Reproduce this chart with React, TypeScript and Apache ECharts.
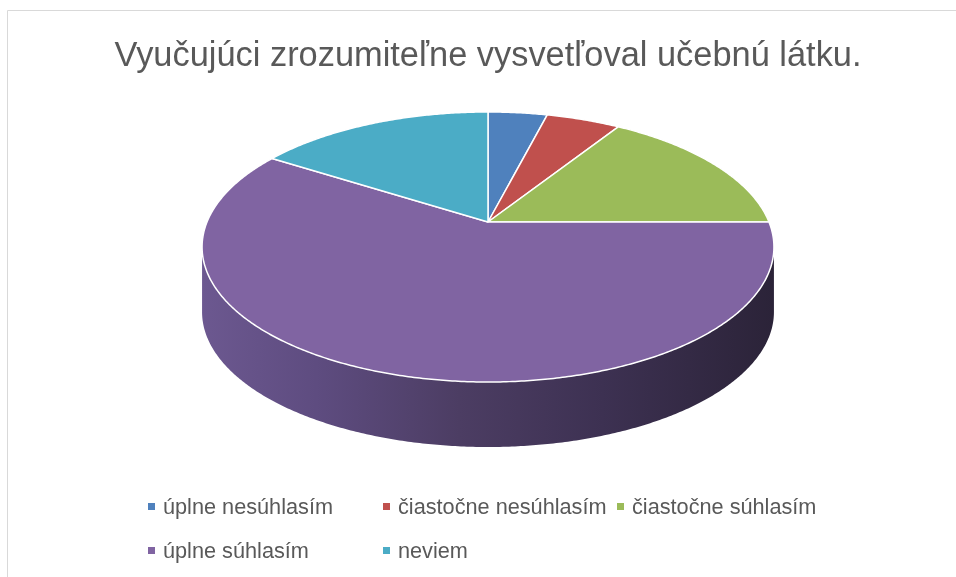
import { useEffect, useRef } from "react";
import * as echarts from "echarts";

const titleText = "Vyučujúci zrozumiteľne vysvetľoval učebnú látku.";
const categories = [
  "úplne nesúhlasím",
  "čiastočne nesúhlasím",
  "čiastočne súhlasím",
  "úplne súhlasím",
  "neviem",
];
const values = [4, 5, 16, 59, 16];
const colors = ["#4F81BD", "#C0504D", "#9BBB59", "#8064A2", "#4BACC6"];

// legend grid: column of each item, row of each item
const legendCols = [0, 1, 2, 0, 1];
const legendRows = [0, 0, 0, 1, 1];

const FONT = "'Liberation Sans', Arial, sans-serif";

// 3D pie geometry (perspective view)
const CX = 488;
const CY = 222;
const RX = 281;
const RY = 130.4;
const PERSP = 0.185;
const DEPTH = 65;

function project(theta: number, dy = 0): number[] {
  const u = Math.cos(theta);
  const v = Math.sin(theta);
  const k = 1 / (1 + PERSP * u);
  return [CX + RX * v * k, CY - RY * u * k + dy];
}

function arc(a0: number, a1: number, dy = 0): number[][] {
  const pts: number[][] = [];
  const n = Math.max(2, Math.ceil(Math.abs(a1 - a0) / (Math.PI / 360)));
  for (let i = 0; i <= n; i++) {
    pts.push(project(a0 + ((a1 - a0) * i) / n, dy));
  }
  return pts;
}

export default function App() {
  const ref = useRef<HTMLDivElement>(null);

  useEffect(() => {
    if (!ref.current) return;
    const chart = echarts.init(ref.current, undefined, { renderer: "svg" });
    const total = values.reduce((a, b) => a + b, 0);
    const visA = Math.acos(-PERSP);
    const visB = 2 * Math.PI - visA;

    const colX = [148, 383, 617];
    const rowCenter = [506.5, 550.5];
    const legends = categories.map((name, i) => ({
      data: [name],
      left: colX[legendCols[i]],
      top: rowCenter[legendRows[i]] - 11,
      padding: 0,
      icon: "rect",
      itemWidth: 7,
      itemHeight: 7,
      selectedMode: false,
      textStyle: {
        fontFamily: FONT,
        fontSize: 21.7,
        lineHeight: 22,
        color: "#595959",
        padding: [0, 0, 0, 3],
      },
    }));

    chart.setOption({
      animation: false,
      title: {
        text: titleText,
        left: 488,
        textAlign: "center",
        top: 37,
        padding: 0,
        textStyle: {
          fontFamily: FONT,
          fontSize: 34.4,
          fontWeight: "normal",
          color: "#595959",
        },
      },
      legend: legends,
      graphic: [
        {
          type: "rect",
          shape: { x: 7.5, y: 10.5, width: 1200, height: 1200 },
          style: { fill: "none", stroke: "#d9d9d9", lineWidth: 1 },
          silent: true,
          z: -10,
        },
      ],
      series: [
        {
          type: "pie",
          name: "legend",
          center: [-200, -200],
          radius: [0, 1],
          silent: true,
          label: { show: false },
          labelLine: { show: false },
          data: categories.map((name, i) => ({
            name,
            value: values[i],
            itemStyle: { color: colors[i] },
          })),
        },
        {
          type: "custom",
          name: "pie3d",
          coordinateSystem: "none",
          silent: true,
          data: values.map((v, i) => [v, i]),
          renderItem: (params: any, api: any) => {
            const idx = params.dataIndex;
            let before = 0;
            for (let j = 0; j < idx; j++) before += values[j];
            const val = api.value(0);
            const a0 = (before / total) * 2 * Math.PI;
            const a1 = ((before + val) / total) * 2 * Math.PI;
            const children: any[] = [];
            const b0 = Math.max(a0, visA);
            const b1 = Math.min(a1, visB);
            if (b1 > b0) {
              const top = arc(b0, b1);
              const bottom = arc(b1, b0, DEPTH);
              children.push({
                type: "polygon",
                z2: 1,
                shape: { points: top.concat(bottom) },
                style: {
                  fill: {
                    type: "linear",
                    x: CX - RX * 1.02,
                    y: 0,
                    x2: CX + RX * 1.02,
                    y2: 0,
                    global: true,
                    colorStops: [
                      { offset: 0, color: "#6c5890" },
                      { offset: 0.2, color: "#5e4c80" },
                      { offset: 0.45, color: "#4c3d63" },
                      { offset: 0.7, color: "#3d3152" },
                      { offset: 1, color: "#2b2338" },
                    ],
                  },
                  stroke: "none",
                },
              });
            }
            const face = [[CX, CY]].concat(arc(a0, a1));
            children.push({
              type: "polygon",
              z2: 10,
              shape: { points: face },
              style: {
                fill: colors[idx],
                stroke: "#ffffff",
                lineWidth: 1.5,
                lineJoin: "round",
              },
            });
            return { type: "group", children };
          },
        },
      ],
    });
    return () => chart.dispose();
  }, []);

  return (
    <div
      ref={ref}
      style={{ position: "fixed", left: 0, top: 0, width: 956, height: 577 }}
    />
  );
}
